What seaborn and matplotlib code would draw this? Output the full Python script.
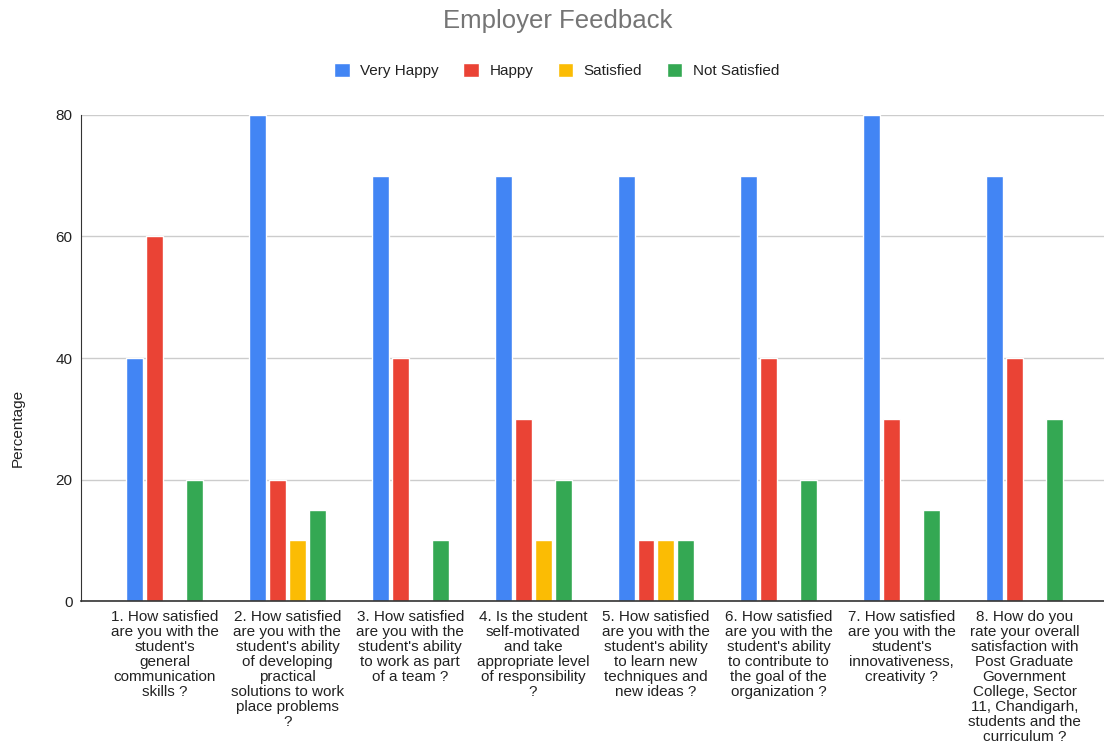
import pandas as pd
import seaborn as sns
import matplotlib.pyplot as plt

perguntas = [
    "1. How satisfied\nare you with the\nstudent's\ngeneral\ncommunication\nskills ?",
    "2. How satisfied\nare you with the\nstudent's ability\nof developing\npractical\nsolutions to work\nplace problems\n?",
    "3. How satisfied\nare you with the\nstudent's ability\nto work as part\nof a team ?",
    "4. Is the student\nself-motivated\nand take\nappropriate level\nof responsibility\n?",
    "5. How satisfied\nare you with the\nstudent's ability\nto learn new\ntechniques and\nnew ideas ?",
    "6. How satisfied\nare you with the\nstudent's ability\nto contribute to\nthe goal of the\norganization ?",
    "7. How satisfied\nare you with the\nstudent's\ninnovativeness,\ncreativity ?",
    "8. How do you\nrate your overall\nsatisfaction with\nPost Graduate\nGovernment\nCollege, Sector\n11, Chandigarh,\nstudents and the\ncurriculum ?",
]
very_happy = [40, 80, 70, 70, 70, 70, 80, 70]
happy = [60, 20, 40, 30, 10, 40, 30, 40]
satisfied = [0, 10, 0, 10, 10, 0, 0, 0]
not_satisfied = [20, 15, 10, 20, 10, 20, 15, 30]

niveis = ['Very Happy', 'Happy', 'Satisfied', 'Not Satisfied']
cores = ['#4285F4', '#EA4335', '#FBBC04', '#34A853']

df = pd.DataFrame({'pergunta': perguntas, 'Very Happy': very_happy, 'Happy': happy,
                   'Satisfied': satisfied, 'Not Satisfied': not_satisfied})
df = df.melt(id_vars='pergunta', var_name='nivel', value_name='valor')

sns.set_style('white')
plt.rcParams['font.family'] = ['Liberation Sans', 'DejaVu Sans']

fig = plt.figure(figsize=(11.04, 7.46), dpi=100)
ax = fig.add_axes([0.0734, 0.194, 0.9266, 0.652])
sns.barplot(data=df, x='pergunta', y='valor', hue='nivel', hue_order=niveis,
            palette=cores, width=0.65, gap=0.15, saturation=1, ax=ax)

ax.set_xlim(-0.68, 7.647)
ax.set_ylim(0, 80)
ax.set_yticks([0, 20, 40, 60, 80])
ax.tick_params(axis='y', labelsize=11, length=0, pad=6, colors='#222222')
ax.tick_params(axis='x', labelsize=11, length=0, pad=6, colors='#222222')
for lbl in ax.get_xticklabels():
    lbl.set_linespacing(1.1)
    lbl.set_verticalalignment('top')
ax.yaxis.grid(True, color='#cccccc', linewidth=1)
ax.set_axisbelow(True)
for s in ['top', 'right']:
    ax.spines[s].set_visible(False)
ax.spines['left'].set_color('#333333')
ax.spines['bottom'].set_color('#333333')
ax.spines['bottom'].set_linewidth(1.2)
ax.set_xlabel('')
ax.set_ylabel('Percentage', fontsize=11, color='#222222')
ax.yaxis.set_label_coords(-0.0547, 0.356)

ax.legend(loc='upper center', bbox_to_anchor=(0.465, 1.135), ncol=4, frameon=False,
          fontsize=11, handlelength=1.0, handleheight=1.0, columnspacing=1.6,
          handletextpad=0.7, labelcolor='#222222')
fig.text(0.505, 0.972, 'Employer Feedback', ha='center', va='center',
         fontsize=18.5, color='#757575')

plt.savefig('out.png', dpi=100)
